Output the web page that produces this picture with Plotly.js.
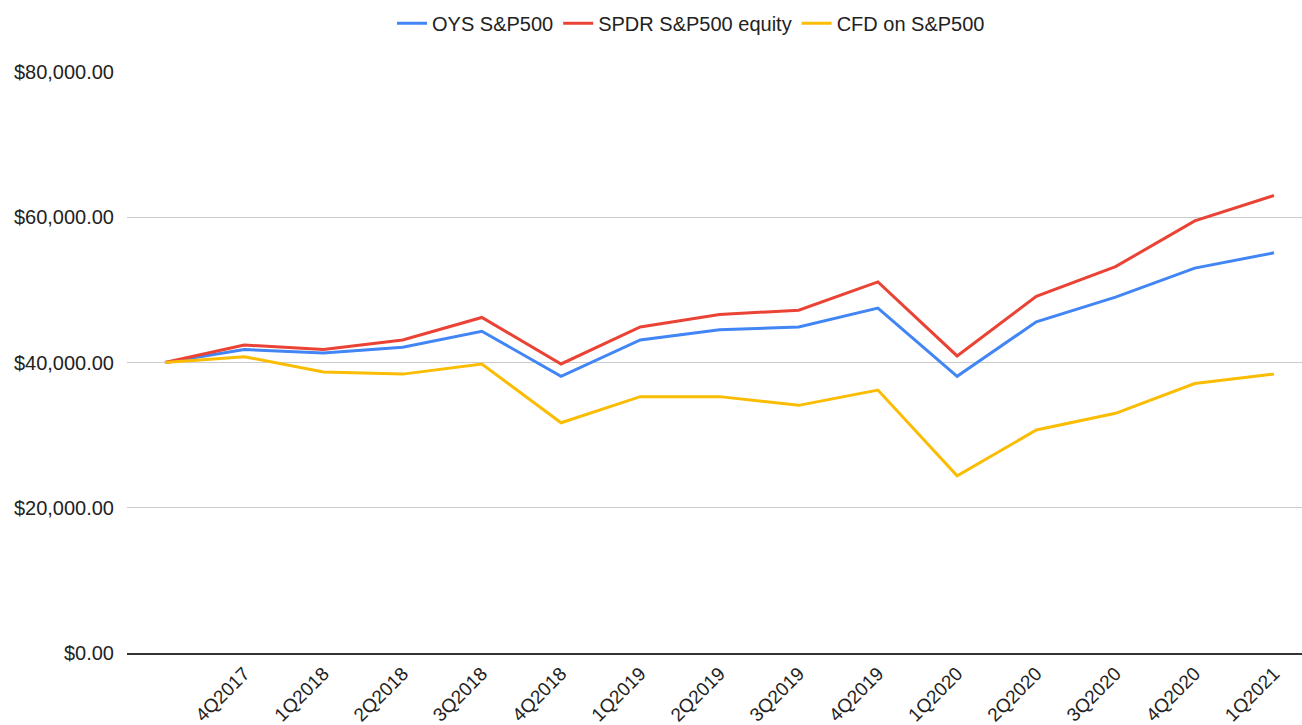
<!DOCTYPE html>
<html>
<head>
<meta charset="utf-8">
<script src="https://cdn.plot.ly/plotly-3.0.1.min.js"></script>
<style>html,body{margin:0;padding:0;background:#fff}#chart{width:1302px;height:725px}</style>
</head>
<body>
<div id="chart"></div>
<script>
const quarters = ["3Q2017","4Q2017","1Q2018","2Q2018","3Q2018","4Q2018","1Q2019","2Q2019","3Q2019","4Q2019","1Q2020","2Q2020","3Q2020","4Q2020","1Q2021"];
const tickLabels = ["4Q2017","1Q2018","2Q2018","3Q2018","4Q2018","1Q2019","2Q2019","3Q2019","4Q2019","1Q2020","2Q2020","3Q2020","4Q2020","1Q2021"];
const oys  = [40000,41800,41300,42100,44300,38100,43100,44500,44900,47500,38100,45600,49000,53000,55100];
const spdr = [40000,42400,41800,43100,46200,39800,44900,46600,47200,51100,40900,49100,53200,59500,63000];
const cfd  = [40000,40800,38700,38400,39800,31700,35300,35300,34100,36200,24400,30700,33000,37100,38400];
const yTicks = [0,20000,40000,60000,80000];

const font = "Liberation Sans, Arial, sans-serif";
const mk = (name, y, color) => ({
  type: "scatter", mode: "lines", name: name, x: quarters, y: y,
  line: {color: color, width: 3}
});
const data = [
  mk("OYS S&P500", oys, "#4285F4"),
  mk("SPDR S&P500 equity", spdr, "#EA4335"),
  mk("CFD on S&P500", cfd, "#FBBC04")
];
const layout = {
  width: 1302, height: 725,
  margin: {l: 127, r: 0, t: 72, b: 72, autoexpand: false},
  paper_bgcolor: "#fff", plot_bgcolor: "#fff",
  font: {family: font, size: 20, color: "#222"},
  showlegend: true,
  legend: {orientation: "h", x: 0.48, xanchor: "center", y: 1.084, yanchor: "middle",
           font: {family: font, size: 20, color: "#222"}, traceorder: "normal",
           itemwidth: 30, tracegroupgap: 0},
  xaxis: {
    type: "category", categoryarray: quarters,
    range: [-0.48, 14.354],
    tickvals: tickLabels, ticktext: tickLabels,
    tickangle: -45, showgrid: false, zeroline: false,
    showline: true, linecolor: "#333", linewidth: 2,
    ticks: "", automargin: false,
    tickfont: {family: font, size: 19, color: "#222"}
  },
  yaxis: {
    range: [0, 80000], tickvals: yTicks, tickformat: "$,.2f",
    showgrid: true, gridcolor: "#cccccc", gridwidth: 1.3, zeroline: false,
    showline: false, ticks: "", ticklabelstandoff: 12, automargin: false,
    tickfont: {family: font, size: 20, color: "#222"}
  }
};
Plotly.newPlot("chart", data, layout, {displayModeBar: false, staticPlot: true});
</script>
</body>
</html>
